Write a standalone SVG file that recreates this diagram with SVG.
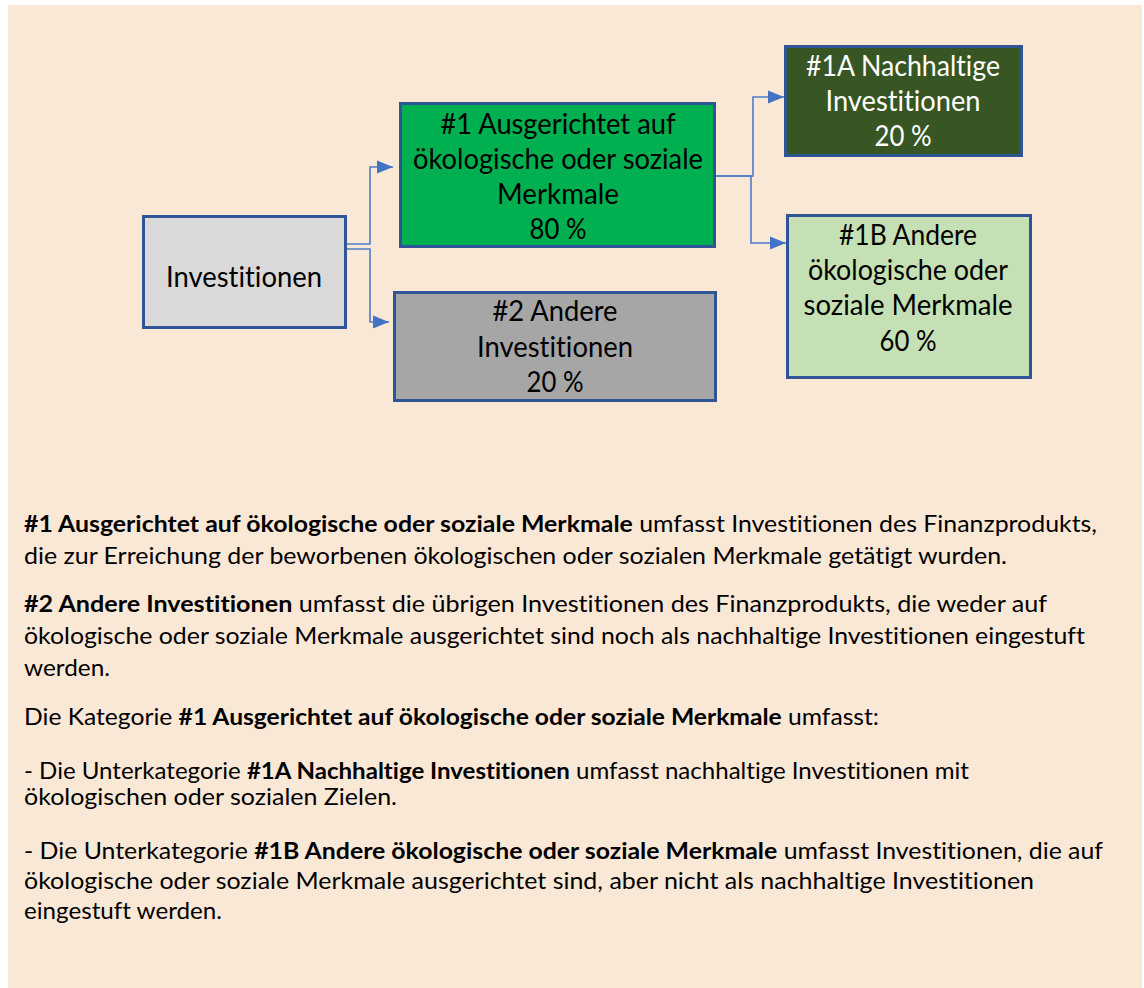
<svg xmlns="http://www.w3.org/2000/svg" width="1144" height="988" viewBox="0 0 1144 988">
<style>
text{font-variant-ligatures:none;font-feature-settings:"liga" 0,"clig" 0}
.box{stroke:#2F5597;stroke-width:3}
.bt{font-family:Lato,"Open Sans",sans-serif;font-size:28px;text-anchor:middle;fill:#000}
.w{fill:#fff}
.p{font-family:Lato,"Open Sans",sans-serif;font-size:23px;fill:#000}
.b{font-weight:bold}
.c{fill:none;stroke:#4E7BCB;stroke-width:1.6}
</style>
<defs>
<marker id="ah" markerUnits="userSpaceOnUse" markerWidth="17" markerHeight="14" refX="16" refY="7" orient="auto">
<path d="M0,0.5 L16,7 L0,13.5 z" fill="#4472C4"/>
</marker>
</defs>
<rect x="0" y="0" width="1144" height="988" fill="#ffffff"/>
<rect x="8" y="5" width="1134" height="983" fill="#FAE8D7"/>
<g id="connectors">
<path class="c" d="M346,244 H370 V167 H393" marker-end="url(#ah)"/>
<path class="c" d="M346,249 H370 V322 H389" marker-end="url(#ah)"/>
<path class="c" d="M716,176 H753 V97 H784" marker-end="url(#ah)"/>
<path class="c" d="M716,176 H751 V243 H786" marker-end="url(#ah)"/>
</g>
<g id="investitionen">
<rect class="box" x="143.5" y="216.5" width="202" height="111" fill="#D9D9D9"/>
<text class="bt" x="244" y="287" textLength="156" lengthAdjust="spacingAndGlyphs">Investitionen</text>
</g>
<g id="n1">
<rect class="box" x="400.5" y="103.5" width="314" height="143" fill="#00B050"/>
<text class="bt" x="558" y="134" textLength="235" lengthAdjust="spacingAndGlyphs">#1 Ausgerichtet auf</text>
<text class="bt" x="558" y="169" textLength="290" lengthAdjust="spacingAndGlyphs">ökologische oder soziale</text>
<text class="bt" x="558" y="204" textLength="122" lengthAdjust="spacingAndGlyphs">Merkmale</text>
<text class="bt" x="558" y="239" textLength="57" lengthAdjust="spacingAndGlyphs">80 %</text>
</g>
<g id="n2">
<rect class="box" x="394.5" y="292.5" width="321" height="108" fill="#A6A6A6"/>
<text class="bt" x="555" y="321" textLength="125" lengthAdjust="spacingAndGlyphs">#2 Andere</text>
<text class="bt" x="555" y="357" textLength="156" lengthAdjust="spacingAndGlyphs">Investitionen</text>
<text class="bt" x="555" y="392" textLength="57" lengthAdjust="spacingAndGlyphs">20 %</text>
</g>
<g id="n1a">
<rect class="box" x="785.5" y="46.5" width="236" height="109" fill="#375623"/>
<text class="bt w" x="903" y="76" textLength="194" lengthAdjust="spacingAndGlyphs">#1A Nachhaltige</text>
<text class="bt w" x="903" y="111" textLength="155" lengthAdjust="spacingAndGlyphs">Investitionen</text>
<text class="bt w" x="903" y="146" textLength="57" lengthAdjust="spacingAndGlyphs">20 %</text>
</g>
<g id="n1b">
<rect class="box" x="787.5" y="215.5" width="243" height="162" fill="#C5E0B4"/>
<text class="bt" x="908" y="245" textLength="138" lengthAdjust="spacingAndGlyphs">#1B Andere</text>
<text class="bt" x="908" y="280" textLength="200" lengthAdjust="spacingAndGlyphs">ökologische oder</text>
<text class="bt" x="908" y="315" textLength="209" lengthAdjust="spacingAndGlyphs">soziale Merkmale</text>
<text class="bt" x="908" y="351" textLength="57" lengthAdjust="spacingAndGlyphs">60 %</text>
</g>
<g id="text">
<text class="p" x="24" y="532" textLength="1073" lengthAdjust="spacingAndGlyphs"><tspan class="b">#1 Ausgerichtet auf ökologische oder soziale Merkmale</tspan> umfasst Investitionen des Finanzprodukts,</text>
<text class="p" x="24" y="564" textLength="983" lengthAdjust="spacingAndGlyphs">die zur Erreichung der beworbenen ökologischen oder sozialen Merkmale getätigt wurden.</text>
<text class="p" x="24" y="612" textLength="1023" lengthAdjust="spacingAndGlyphs"><tspan class="b">#2 Andere Investitionen</tspan> umfasst die übrigen Investitionen des Finanzprodukts, die weder auf</text>
<text class="p" x="24" y="644" textLength="1061" lengthAdjust="spacingAndGlyphs">ökologische oder soziale Merkmale ausgerichtet sind noch als nachhaltige Investitionen eingestuft</text>
<text class="p" x="24" y="676" textLength="86" lengthAdjust="spacingAndGlyphs">werden.</text>
<text class="p" x="24" y="725" textLength="855" lengthAdjust="spacingAndGlyphs">Die Kategorie <tspan class="b">#1 Ausgerichtet auf ökologische oder soziale Merkmale</tspan> umfasst:</text>
<text class="p" x="24" y="779" textLength="945" lengthAdjust="spacingAndGlyphs">- Die Unterkategorie <tspan class="b">#1A Nachhaltige Investitionen</tspan> umfasst nachhaltige Investitionen mit</text>
<text class="p" x="24" y="805" textLength="373" lengthAdjust="spacingAndGlyphs">ökologischen oder sozialen Zielen.</text>
<text class="p" x="24" y="859" textLength="1079" lengthAdjust="spacingAndGlyphs">- Die Unterkategorie <tspan class="b">#1B Andere ökologische oder soziale Merkmale</tspan> umfasst Investitionen, die auf</text>
<text class="p" x="24" y="889" textLength="1010" lengthAdjust="spacingAndGlyphs">ökologische oder soziale Merkmale ausgerichtet sind, aber nicht als nachhaltige Investitionen</text>
<text class="p" x="24" y="919" textLength="198" lengthAdjust="spacingAndGlyphs">eingestuft werden.</text>
</g>
</svg>
